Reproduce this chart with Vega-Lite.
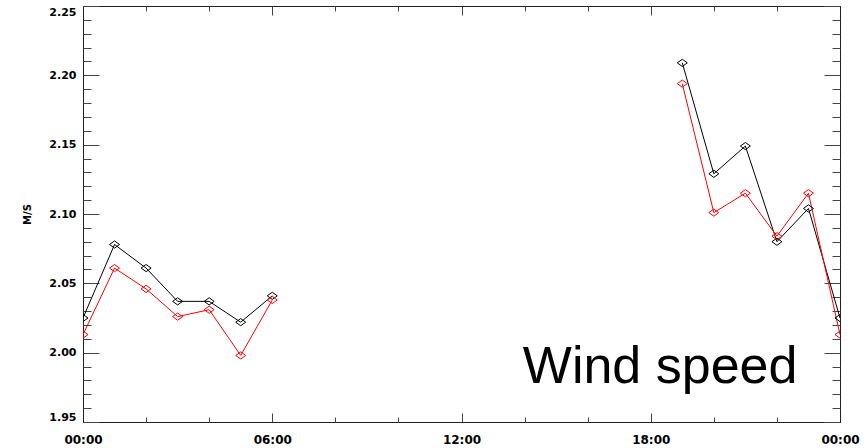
{
  "$schema": "https://vega.github.io/schema/vega-lite/v6.json",
  "width": 757,
  "height": 416,
  "autosize": {"type": "none"},
  "padding": {"left": 83, "top": 6, "right": 27, "bottom": 26},
  "config": {
    "view": {"stroke": null},
    "axis": {"grid": false, "domainColor": "#222222", "tickColor": "#444444", "tickWidth": 1, "domainWidth": 1, "labelColor": "#000000", "titleColor": "#000000", "labelFont": "DejaVu Sans", "labelFontWeight": "bold", "titleFont": "DejaVu Sans", "titleFontWeight": "bold"}
  },
  "datasets": {
    "wind": [
      {"hour": 0, "value": 2.025, "series": "black", "seg": 1},
      {"hour": 1, "value": 2.078, "series": "black", "seg": 1},
      {"hour": 2, "value": 2.061, "series": "black", "seg": 1},
      {"hour": 3, "value": 2.037, "series": "black", "seg": 1},
      {"hour": 4, "value": 2.037, "series": "black", "seg": 1},
      {"hour": 5, "value": 2.022, "series": "black", "seg": 1},
      {"hour": 6, "value": 2.041, "series": "black", "seg": 1},
      {"hour": 19, "value": 2.209, "series": "black", "seg": 2},
      {"hour": 20, "value": 2.129, "series": "black", "seg": 2},
      {"hour": 21, "value": 2.149, "series": "black", "seg": 2},
      {"hour": 22, "value": 2.080, "series": "black", "seg": 2},
      {"hour": 23, "value": 2.104, "series": "black", "seg": 2},
      {"hour": 24, "value": 2.025, "series": "black", "seg": 2},
      {"hour": 0, "value": 2.013, "series": "red", "seg": 1},
      {"hour": 1, "value": 2.061, "series": "red", "seg": 1},
      {"hour": 2, "value": 2.046, "series": "red", "seg": 1},
      {"hour": 3, "value": 2.026, "series": "red", "seg": 1},
      {"hour": 4, "value": 2.031, "series": "red", "seg": 1},
      {"hour": 5, "value": 1.998, "series": "red", "seg": 1},
      {"hour": 6, "value": 2.038, "series": "red", "seg": 1},
      {"hour": 19, "value": 2.194, "series": "red", "seg": 2},
      {"hour": 20, "value": 2.101, "series": "red", "seg": 2},
      {"hour": 21, "value": 2.115, "series": "red", "seg": 2},
      {"hour": 22, "value": 2.084, "series": "red", "seg": 2},
      {"hour": 23, "value": 2.115, "series": "red", "seg": 2},
      {"hour": 24, "value": 2.013, "series": "red", "seg": 2}
    ],
    "label": [
      {"hour": 22.65, "value": 1.978, "text": "Wind speed"}
    ]
  },
  "resolve": {"axis": {"x": "independent", "y": "independent"}},
  "layer": [
    {
      "data": {"name": "wind"},
      "mark": {"type": "line", "strokeWidth": 1, "clip": true},
      "encoding": {
        "x": {"field": "hour", "type": "quantitative", "scale": {"domain": [0, 24], "nice": false, "zero": false},
          "axis": {"orient": "bottom", "title": null, "values": [0, 6, 12, 18, 24], "tickSize": -9, "labelPadding": 21.5, "labelFontSize": 12, "labelFlush": false, "labelExpr": "datum.value == 24 ? '00:00' : (datum.value < 10 ? '0' : '') + datum.value + ':00'"}},
        "y": {"field": "value", "type": "quantitative", "scale": {"domain": [1.95, 2.25], "nice": false, "zero": false},
          "axis": {"orient": "left", "title": "M/S", "titleFontSize": 10, "titlePadding": 16, "values": [1.95, 2.0, 2.05, 2.1, 2.15, 2.2, 2.25], "format": ".2f", "tickSize": -16, "labelPadding": 23, "labelFontSize": 11, "labelFlush": true, "labelFlushOffset": 0}},
        "color": {"field": "series", "type": "nominal", "scale": {"domain": ["black", "red"], "range": ["#000000", "#ff0000"]}, "legend": null},
        "detail": {"field": "seg"}
      }
    },
    {
      "data": {"name": "wind"},
      "mark": {"type": "point", "shape": "M-1,0L0,-0.72L1,0L0,0.72Z", "filled": false, "size": 100, "strokeWidth": 1, "opacity": 1, "clip": true},
      "encoding": {
        "x": {"field": "hour", "type": "quantitative",
          "axis": {"orient": "bottom", "title": null, "values": [2, 4, 8, 10, 14, 16, 20, 22], "tickSize": -5, "labels": false, "domain": false}},
        "y": {"field": "value", "type": "quantitative",
          "axis": {"orient": "left", "title": null, "values": [1.96, 1.97, 1.98, 1.99, 2.01, 2.02, 2.03, 2.04, 2.06, 2.07, 2.08, 2.09, 2.11, 2.12, 2.13, 2.14, 2.16, 2.17, 2.18, 2.19, 2.21, 2.22, 2.23, 2.24], "tickSize": -8, "labels": false, "domain": false}},
        "color": {"field": "series", "type": "nominal", "legend": null}
      }
    },
    {
      "data": {"name": "wind"},
      "mark": {"type": "point", "opacity": 0, "size": 0, "clip": true},
      "encoding": {
        "x": {"field": "hour", "type": "quantitative",
          "axis": {"orient": "top", "title": null, "values": [0, 6, 12, 18, 24], "tickSize": -9, "labels": false}},
        "y": {"field": "value", "type": "quantitative",
          "axis": {"orient": "right", "title": null, "values": [1.95, 2.0, 2.05, 2.1, 2.15, 2.2, 2.25], "tickSize": -16, "labels": false}}
      }
    },
    {
      "data": {"name": "label"},
      "mark": {"type": "text", "font": "Liberation Sans", "fontSize": 52, "align": "right", "baseline": "alphabetic", "color": "#000000"},
      "encoding": {
        "x": {"field": "hour", "type": "quantitative",
          "axis": {"orient": "top", "title": null, "values": [2, 4, 8, 10, 14, 16, 20, 22], "tickSize": -5, "labels": false, "domain": false}},
        "y": {"field": "value", "type": "quantitative",
          "axis": {"orient": "right", "title": null, "values": [1.96, 1.97, 1.98, 1.99, 2.01, 2.02, 2.03, 2.04, 2.06, 2.07, 2.08, 2.09, 2.11, 2.12, 2.13, 2.14, 2.16, 2.17, 2.18, 2.19, 2.21, 2.22, 2.23, 2.24], "tickSize": -8, "labels": false, "domain": false}},
        "text": {"field": "text"}
      }
    }
  ]
}
